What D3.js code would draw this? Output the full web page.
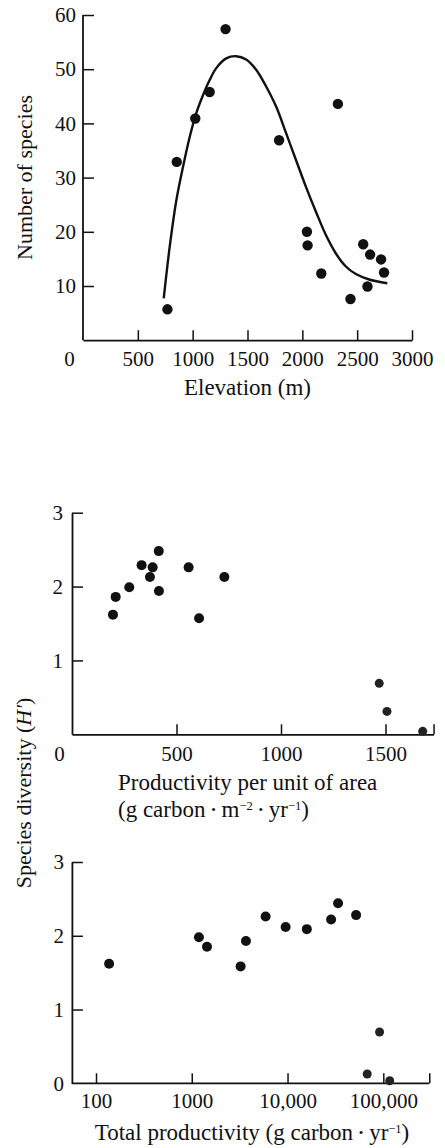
<!DOCTYPE html>
<html>
<head>
<meta charset="utf-8">
<script src="https://cdn.jsdelivr.net/npm/d3@7"></script>
<style>
  html, body { margin: 0; padding: 0; background: #fff; }
  svg { display: block; }
  text { font-family: "Liberation Serif", "Times New Roman", serif; fill: #111; }
</style>
</head>
<body>
<svg id="chart" width="445" height="1148"></svg>
<script>
// ---------- DATA ----------
// Panel A: species richness vs elevation
const elevation = [770, 855, 1024, 1155, 1300, 1788, 2324, 2042, 2048, 2173, 2439, 2555, 2618, 2594, 2718, 2745];
const species   = [5.7, 32.9, 40.9, 45.8, 57.4, 36.9, 43.6, 20.0, 17.5, 12.3, 7.6, 17.7, 15.8, 9.9, 14.9, 12.5];
// fitted curve
const curveElev = [736, 791, 852, 912, 973, 1033, 1094, 1155, 1215, 1306, 1397, 1488, 1579, 1670, 1761, 1852, 1943, 2033, 2124, 2215, 2306, 2397, 2488, 2609, 2775];
const curveSpec = [7.7, 17.3, 25.9, 32.0, 37.5, 41.9, 45.2, 48.0, 50.2, 52.0, 52.4, 51.8, 49.9, 46.8, 43.1, 38.2, 33.2, 28.3, 23.7, 19.4, 16.0, 13.6, 12.2, 11.2, 10.5];
const elevTicks = [0, 500, 1000, 1500, 2000, 2500, 3000];
const speciesTicks = [10, 20, 30, 40, 50, 60];

// Panel B: diversity vs productivity per unit area
const prodArea  = [196, 209, 274, 333, 373, 386, 415, 416, 558, 608, 729, 1470, 1507, 1678];
const diversityB = [1.62, 1.86, 1.99, 2.29, 2.13, 2.26, 2.48, 1.94, 2.26, 1.57, 2.13, 0.69, 0.31, 0.04];
const speckledB = [false, false, false, false, false, false, false, false, false, false, false, true, true, true];
const prodAreaTicks = [0, 500, 1000, 1500];
const prodAreaMax = 1730;
const diversityTicksB = [1, 2, 3];

// Panel C: diversity vs total productivity
const prodTotal = [137, 1188, 1442, 3237, 3680, 5900, 9550, 15900, 28500, 33700, 52000, 91400, 67900, 116600];
const diversityC = [1.62, 1.98, 1.85, 1.585, 1.93, 2.26, 2.12, 2.09, 2.22, 2.44, 2.28, 0.695, 0.126, 0.035];
const speckledC = [false, false, false, false, false, false, false, false, false, false, false, true, true, true];
const prodTotalTicks = [100, 1000, 10000, 100000];
const prodTotalLabels = ["100", "1000", "10,000", "100,000"];
const prodTotalRange = [56, 302000];
const diversityTicksC = [0, 1, 2, 3];

// ---------- DRAW ----------
const svg = d3.select("#chart");
svg.append("rect").attr("width", 445).attr("height", 1148).attr("fill", "#fff");
const FS = 21;    // tick labels
const TFS = 23;   // axis titles
const fmt = d3.format("d");

function styleAxis(g) {
  g.selectAll("path.domain").attr("stroke", "#111").attr("stroke-width", 1.8);
  g.selectAll(".tick line").attr("stroke", "#111").attr("stroke-width", 1.5);
  g.selectAll("text").attr("font-family", "Liberation Serif, serif").attr("font-size", FS).attr("fill", "#111");
}

// ----- Panel A -----
const xA = d3.scaleLinear().domain([0, 3000]).range([83, 412]);
const yA = d3.scaleLinear().domain([0, 60]).range([340.2, 15]);

const gxA = svg.append("g").attr("transform", `translate(0,${yA(0)})`)
  .call(d3.axisBottom(xA).tickValues(elevTicks).tickFormat(fmt).tickSizeInner(-10).tickSizeOuter(0).tickPadding(11));
styleAxis(gxA);
gxA.selectAll(".tick").filter(d => d === 0).select("line").remove();
gxA.selectAll(".tick").filter(d => d === 0).select("text").attr("x", -14);

const gyA = svg.append("g").attr("transform", `translate(${xA(0)},0)`)
  .call(d3.axisLeft(yA).tickValues(speciesTicks).tickFormat(fmt).tickSizeInner(-11).tickSizeOuter(0).tickPadding(7));
styleAxis(gyA);
gyA.select("path.domain").attr("d", `M0,${yA(0)}V${yA(60)}`);

const line = d3.line().x(d => xA(d[0])).y(d => yA(d[1])).curve(d3.curveCatmullRom.alpha(0.5));
svg.append("path").datum(d3.zip(curveElev, curveSpec))
  .attr("d", line).attr("fill", "none").attr("stroke", "#111").attr("stroke-width", 2.4);

svg.append("g").selectAll("circle").data(d3.zip(elevation, species)).join("circle")
  .attr("cx", d => xA(d[0])).attr("cy", d => yA(d[1])).attr("r", 5.2).attr("fill", "#111");

svg.append("text").attr("transform", `translate(32,177.5) rotate(-90)`)
  .attr("text-anchor", "middle").attr("font-size", 22).text("Number of species");
svg.append("text").attr("x", (xA.range()[0] + xA.range()[1]) / 2).attr("y", 395)
  .attr("text-anchor", "middle").attr("font-size", TFS).text("Elevation (m)");

// ----- Panel B -----
const xB = d3.scaleLinear().domain([0, prodAreaMax]).range([72, 72 + prodAreaMax * 0.209]);
const yB = d3.scaleLinear().domain([0, 3]).range([734.3, 512.7]);

const gxB = svg.append("g").attr("transform", `translate(0,${yB(0)})`)
  .call(d3.axisBottom(xB).tickValues(prodAreaTicks.concat([prodAreaMax]))
    .tickFormat(d => d === prodAreaMax ? "" : fmt(d))
    .tickSizeInner(-10).tickSizeOuter(0).tickPadding(12));
styleAxis(gxB);
gxB.selectAll(".tick").filter(d => d === 0).select("line").remove();
gxB.selectAll(".tick").filter(d => d === 0).select("text").attr("x", -13);

const gyB = svg.append("g").attr("transform", `translate(${xB(0)},0)`)
  .call(d3.axisLeft(yB).tickValues(diversityTicksB).tickFormat(fmt).tickSizeInner(-11).tickSizeOuter(0).tickPadding(9));
styleAxis(gyB);

svg.append("g").selectAll("circle").data(d3.range(prodArea.length)).join("circle")
  .attr("cx", i => xB(prodArea[i])).attr("cy", i => yB(diversityB[i]))
  .attr("r", i => speckledB[i] ? 4.5 : 5)
  .attr("fill", i => speckledB[i] ? "#222" : "#111");

const tB = svg.append("text").attr("x", 118).attr("y", 790).attr("font-size", TFS);
tB.text("Productivity per unit of area");
const tB2 = svg.append("text").attr("x", 118).attr("y", 817).attr("font-size", TFS);
tB2.append("tspan").text("(g carbon ");
tB2.append("tspan").attr("font-size", 13).attr("dy", -3).text("•");
tB2.append("tspan").attr("dy", 3).text(" m");
tB2.append("tspan").attr("font-size", 12.5).attr("dy", -7).text("−2");
tB2.append("tspan").attr("dy", 7).text(" ");
tB2.append("tspan").attr("font-size", 13).attr("dy", -3).text("•");
tB2.append("tspan").attr("dy", 3).text(" yr");
tB2.append("tspan").attr("font-size", 12.5).attr("dy", -7).text("−1");
tB2.append("tspan").attr("dy", 7).text(")");

// ----- Panel C -----
const xC = d3.scaleLog().domain([100, 100000]).range([96, 383.3]);
const yC = d3.scaleLinear().domain([0, 3]).range([1083.3, 862]);
const xC0 = xC(prodTotalRange[0]), xC1 = xC(prodTotalRange[1]);

const gxC = svg.append("g").attr("transform", `translate(0,${yC(0)})`)
  .call(d3.axisBottom(xC).tickValues(prodTotalTicks.concat([prodTotalRange[1]]))
    .tickFormat(d => { const i = prodTotalTicks.indexOf(d); return i < 0 ? "" : prodTotalLabels[i]; })
    .tickSizeInner(-10).tickSizeOuter(0).tickPadding(10));
styleAxis(gxC);
gxC.select("path.domain").attr("d", `M${xC0},0H${xC1}`);

const gyC = svg.append("g").attr("transform", `translate(${xC0},0)`)
  .call(d3.axisLeft(yC).tickValues(diversityTicksC).tickFormat(fmt).tickSizeInner(-11).tickSizeOuter(0).tickPadding(8));
styleAxis(gyC);
gyC.selectAll(".tick").filter(d => d === 0).select("line").remove();

svg.append("g").selectAll("circle").data(d3.range(prodTotal.length)).join("circle")
  .attr("cx", i => xC(prodTotal[i])).attr("cy", i => yC(diversityC[i]))
  .attr("r", i => speckledC[i] ? 4.5 : 5)
  .attr("fill", i => speckledC[i] ? "#222" : "#111");

const tC = svg.append("text").attr("x", 252).attr("y", 1140).attr("text-anchor", "middle").attr("font-size", TFS);
tC.append("tspan").text("Total productivity (g carbon ");
tC.append("tspan").attr("font-size", 13).attr("dy", -3).text("•");
tC.append("tspan").attr("dy", 3).text(" yr");
tC.append("tspan").attr("font-size", 12.5).attr("dy", -7).text("−1");
tC.append("tspan").attr("dy", 7).text(")");

// shared y label
const yl = svg.append("text").attr("transform", `translate(31,793) rotate(-90)`)
  .attr("text-anchor", "middle").attr("font-size", 22);
yl.append("tspan").text("Species diversity (");
yl.append("tspan").attr("font-style", "italic").text("H′");
yl.append("tspan").text(")");
</script>
</body>
</html>
